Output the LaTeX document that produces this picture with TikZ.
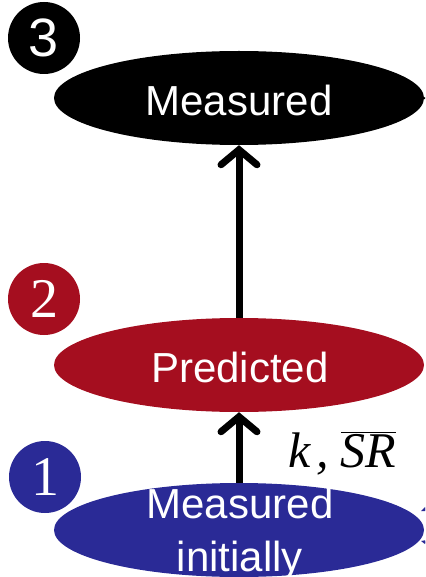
\documentclass[tikz,border=0pt]{standalone}
\usepackage{fontspec}
\setmainfont{Liberation Serif}
\newfontfamily\arial{Liberation Sans}
\usetikzlibrary{shapes.geometric,arrows.meta}
\definecolor{myblue}{HTML}{2A2A96}
\definecolor{myred}{HTML}{A50E1F}
\tikzset{
  x=1pt, y=1pt,
  stage/.style={ellipse, minimum width=370pt, minimum height=94pt, inner sep=0pt, draw=none},
  stagetext/.style={text=white, font=\arial\fontsize{42}{53}\selectfont, align=center, inner sep=0pt},
  badge/.style={circle, minimum size=72pt, inner sep=0pt, text=white},
  flow/.style={line width=7pt, black, -{Straight Barb[length=15pt, width=36pt, line cap=round]}},
}
\begin{document}
\begin{tikzpicture}
\useasboundingbox (0,0) rectangle (425,-577);
\clip (0,0) rectangle (425,-577);
% badges
\node[badge, fill=black, font=\arial\fontsize{54}{54}\selectfont] (b3) at (44,-38) {3};
\node[badge, fill=myred, font=\fontsize{56}{56}\selectfont] (b2) at (44,-299) {2};
\node[badge, fill=myblue, font=\fontsize{56}{56}\selectfont] (b1) at (45,-477) {1};
% ellipses
\node[stage, fill=black] (meas) at (239,-98) {};
\node[stage, fill=myred] (pred) at (239,-365) {};
\node[stage, fill=myblue] (init) at (239,-530) {};
\node[stagetext] (tmeas) at (239,-100) {Measured};
\node[stagetext] (tpred) at (240,-367) {Predicted};
\node[stagetext, anchor=north] (tinit) at (240,-488) {Measured\\initially};
% connectors
\draw[flow] (pred.north) -- (meas.south);
\draw[flow] (init.north) -- (pred.south);
% label
\node[font=\fontsize{50}{50}\selectfont, inner sep=0pt, anchor=base west] (lab) at (288,-467) {\itshape k\hspace{6pt},\hspace{12pt}$\overline{\mbox{\itshape SR}}$};
% cut-off fragments at right edge
\coordinate (outA) at (445,-100);
\draw[line width=2pt, black] (meas.east) -- (outA);
\coordinate (outB) at (450,-500);
\coordinate (outC) at (450,-548);
\draw[myblue, line width=1.5pt, -{Stealth[length=7pt,width=6pt]}] (outB) -- (421,-511);
\draw[myblue, line width=1.5pt, -{Stealth[length=7pt,width=6pt]}] (outC) -- (421,-541);
\end{tikzpicture}
\end{document}
